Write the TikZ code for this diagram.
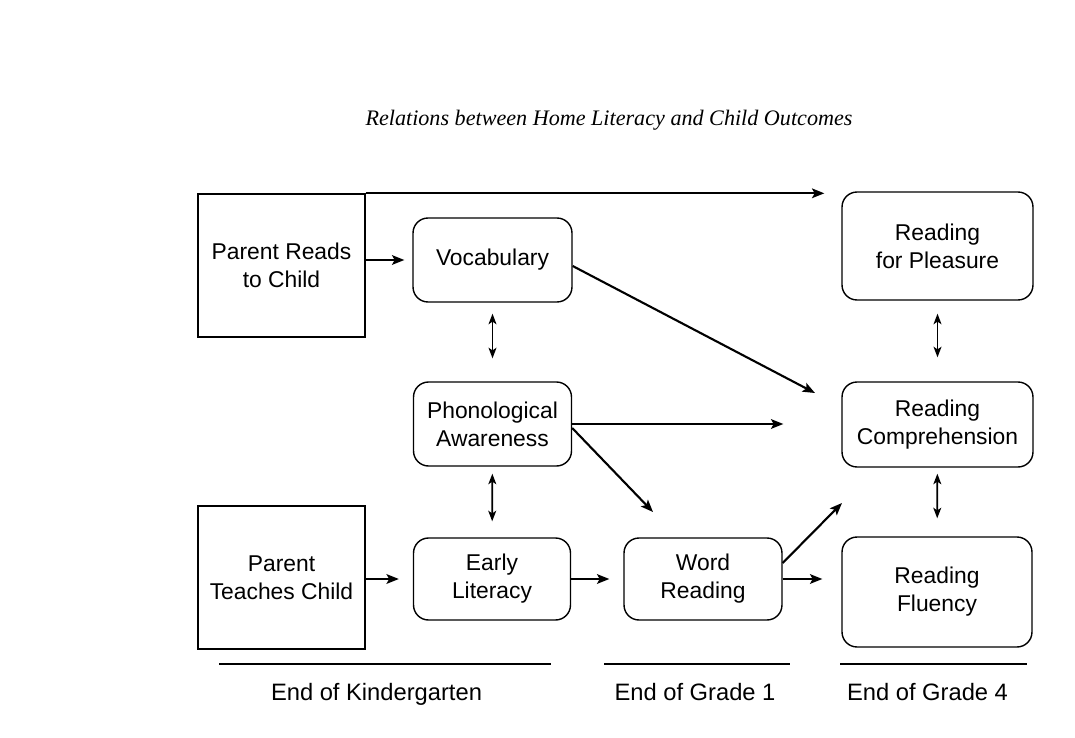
\documentclass[tikz,border=0pt]{standalone}
\usepackage{fontspec}
\setmainfont{Liberation Sans}
\newfontfamily\titleFont{Liberation Serif}
\usetikzlibrary{arrows.meta,positioning,calc}
\begin{document}
\begin{tikzpicture}[
        x=0.02cm, y=-0.02cm,
        font=\fontsize{13}{16}\selectfont,
        squareNode/.style={rectangle, draw, line width=0.8pt, minimum width=3.34cm, minimum height=2.86cm, align=center, inner sep=0pt},
        roundNode/.style={rectangle, rounded corners=0.3cm, draw, line width=0.8pt, align=center, inner sep=0pt},
        arrowLine/.style={line width=1.2pt, -{Stealth[length=7pt, width=5.5pt, inset=1.5pt]}},
        twoWay/.style={line width=1pt, {Stealth[length=6pt, width=4.5pt, inset=1.5pt]}-{Stealth[length=6pt, width=4.5pt, inset=1.5pt]}},
        periodLine/.style={line width=1pt},
        periodLabel/.style={font=\fontsize{13.5}{16}\selectfont, anchor=base}
    ]
        \useasboundingbox (0,0) rectangle (1075,737);

        % Title
        \node[font=\titleFont\itshape\fontsize{12.6}{16}\selectfont] (title) at (609,120) {Relations between Home Literacy and Child Outcomes};

        % Parent nodes
        \node[squareNode] (reads) at (281.5,265.5) {Parent Reads\\to Child};
        \node[squareNode] (teaches) at (281.5,577.5) {Parent\\Teaches Child};

        % Kindergarten and grade 1 nodes
        \node[roundNode, minimum width=3.18cm, minimum height=1.68cm] (vocab) at (492.5,260) {Vocabulary};
        \node[roundNode, minimum width=3.16cm, minimum height=1.68cm] (phono) at (492.5,424) {Phonological\\Awareness};
        \node[roundNode, minimum width=3.14cm, minimum height=1.64cm] (early) at (492,579) {Early\\Literacy};
        \node[roundNode, minimum width=3.16cm, minimum height=1.64cm] (word) at (703,579) {Word\\Reading};

        % Grade 4 nodes
        \node[roundNode, minimum width=3.82cm, minimum height=2.16cm] (pleasure) at (937.5,246) {Reading\\for Pleasure};
        \node[roundNode, minimum width=3.82cm, minimum height=1.70cm] (comp) at (937.5,424.5) {Reading\\Comprehension};
        \node[roundNode, minimum width=3.80cm, minimum height=2.20cm] (fluency) at (937,592) {Reading\\Fluency};

        % Free arrow ends
        \coordinate (vocabTip) at (815,393);
        \coordinate (wordTip) at (653,512);
        \coordinate (compTip) at (842,503);

        % Edges
        \draw[arrowLine, shorten >=0.34cm] (reads.north east) -- (reads.north east -| pleasure.west);
        \draw[arrowLine, shorten >=0.16cm] (reads.east |- vocab.west) -- (vocab.west);
        \draw[arrowLine, shorten >=0.28cm] (teaches.east |- early.west) -- (early.west);
        \draw[arrowLine, shorten >=0.28cm] (early) -- (word);
        \draw[arrowLine, shorten >=0.38cm] (word.east) -- (word.east -| fluency.west);
        \draw[arrowLine, shorten >=1.16cm] (phono.east) -- (phono.east -| comp.west);
        \draw[arrowLine] ([yshift=-0.12cm]vocab.east) -- (vocabTip);
        \draw[arrowLine] ([yshift=-0.08cm]phono.east) -- (wordTip);
        \draw[arrowLine] ([yshift=0.32cm]word.east) -- (compTip);

        % Two-way links
        \draw[twoWay, shorten <=0.22cm, shorten >=0.46cm] (vocab) -- (phono);
        \draw[twoWay, shorten <=0.14cm, shorten >=0.32cm] (phono) -- (early);
        \draw[twoWay, shorten <=0.26cm, shorten >=0.48cm] (pleasure) -- (comp);
        \draw[twoWay, shorten <=0.12cm, shorten >=0.36cm] (comp) -- (fluency);

        % Periods
        \node[periodLabel] (kinderLabel) at (376.5,700) {End of Kindergarten};
        \node[periodLabel] (gradeOneLabel) at (695,700) {End of Grade 1};
        \node[periodLabel] (gradeFourLabel) at (927.5,700) {End of Grade 4};
        \draw[periodLine] (219,664) -- (551,664);
        \draw[periodLine] (604,664) -- (790,664);
        \draw[periodLine] (840,664) -- (1027,664);
    \end{tikzpicture}
\end{document}
